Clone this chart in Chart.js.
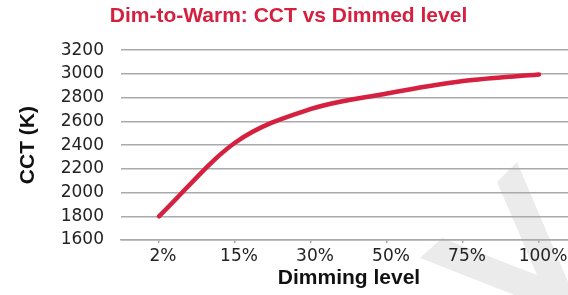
<!DOCTYPE html>
<html>
<head>
<meta charset="utf-8">
<script src="https://cdn.jsdelivr.net/npm/chart.js@4"></script>
<style>
  html, body { margin: 0; padding: 0; background: #fff; overflow: hidden; }
  #wrap { width: 577px; height: 295px; }
</style>
</head>
<body>
<div id="wrap"><canvas id="chart" width="577" height="295"></canvas></div>
<script>
const dimLevels = ["2%", "15%", "30%", "50%", "75%", "100%"];
const cctValues = [1800, 2420, 2705, 2835, 2940, 2995];
const yTicks = [1600, 1800, 2000, 2200, 2400, 2600, 2800, 3000, 3200];

const red = "#d5203f";
const gridGray = "#a9a9ae";

// light grey chevron in the bottom right corner
const backdrop = {
  id: "backdrop",
  beforeDraw(chart) {
    const ctx = chart.ctx;
    ctx.save();
    ctx.fillStyle = "#ebebeb";
    ctx.beginPath();
    ctx.moveTo(420, 258);
    ctx.lineTo(442, 238);
    ctx.lineTo(537, 275);
    ctx.lineTo(497, 182);
    ctx.lineTo(517, 162);
    ctx.lineTo(580, 310);
    ctx.lineTo(553, 310);
    ctx.closePath();
    ctx.fill();
    ctx.restore();
  }
};

new Chart(document.getElementById("chart"), {
  type: "line",
  data: {
    labels: dimLevels,
    datasets: [{
      label: "CCT",
      data: cctValues,
      borderColor: red,
      borderWidth: 4.5,
      borderCapStyle: "round",
      pointRadius: 0,
      cubicInterpolationMode: "monotone",
      fill: false
    }]
  },
  options: {
    responsive: false,
    animation: false,
    layout: { padding: 0 },
    plugins: {
      legend: { display: false },
      tooltip: { enabled: false },
      title: {
        display: true,
        text: "Dim-to-Warm: CCT vs Dimmed level",
        color: red,
        font: { family: "Liberation Sans", size: 21, weight: "bold" },
        padding: { top: 4, bottom: 21 }
      }
    },
    scales: {
      x: {
        offset: true,
        grid: { drawOnChartArea: false, drawTicks: true, tickLength: 3, color: gridGray, lineWidth: 1.5 },
        border: { display: true, color: gridGray, width: 1.5 },
        ticks: {
          color: "#222",
          font: { family: "DejaVu Sans", size: 17 },
          padding: 3,
          labelOffset: 4,
          maxRotation: 0
        },
        title: {
          display: true,
          text: "Dimming level",
          color: "#111",
          font: { family: "Liberation Sans", size: 21, weight: "bold" },
          padding: { top: 0, bottom: 4 }
        },
        afterFit(scale) { scale.height = 55; }
      },
      y: {
        min: 1600,
        max: 3200,
        afterBuildTicks(scale) { scale.ticks = yTicks.map(v => ({ value: v })); },
        grid: { drawTicks: false, color: gridGray, lineWidth: 1.5 },
        border: { display: false },
        ticks: {
          color: "#222",
          font: { family: "DejaVu Sans", size: 17 },
          padding: 17,
          callback: v => String(v)
        },
        title: {
          display: true,
          text: "CCT (K)",
          color: "#111",
          font: { family: "Liberation Sans", size: 21, weight: "bold" },
          padding: { top: 16, bottom: 0 }
        },
        afterFit(scale) { scale.width = 121; }
      }
    }
  },
  plugins: [backdrop]
});
</script>
</body>
</html>
